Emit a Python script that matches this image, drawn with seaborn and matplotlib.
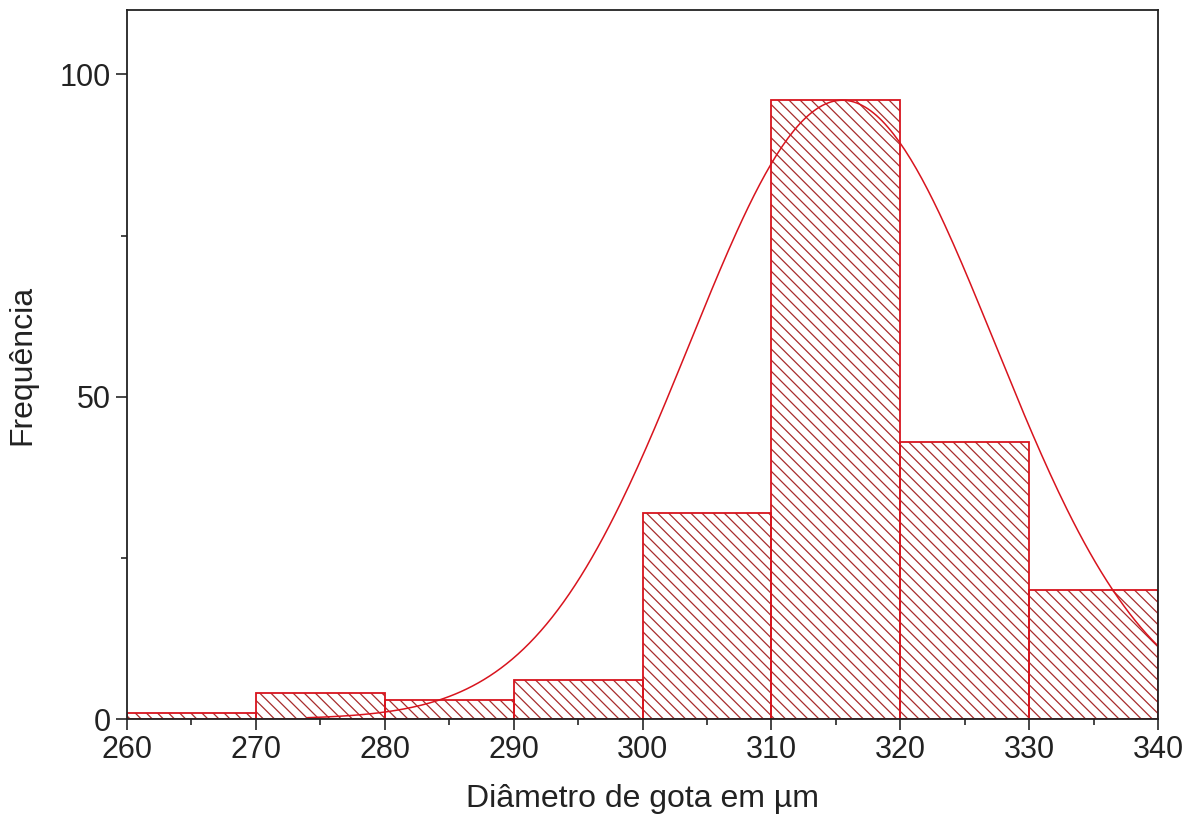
import numpy as np
import pandas as pd
import matplotlib.pyplot as plt
from matplotlib.ticker import MultipleLocator
import seaborn as sns

# histogram bins (diameter in um) and counts
bin_edges = [260, 270, 280, 290, 300, 310, 320, 330, 340]
counts = [1, 4, 3, 6, 32, 96, 43, 20]

# normal fit drawn over the histogram
fit_mean = 315.5
fit_sd = 11.85
fit_peak = 96
fit_start = 274
fit_end = 340

x_ticks = [260, 270, 280, 290, 300, 310, 320, 330, 340]
y_ticks = [0, 50, 100]

sns.set_style("white")
plt.rcParams["font.family"] = ["Liberation Sans", "DejaVu Sans"]
plt.rcParams["hatch.linewidth"] = 0.9

df = pd.DataFrame({
    "centro": [(a + b) / 2 for a, b in zip(bin_edges[:-1], bin_edges[1:])],
    "freq": counts,
})

fig = plt.figure(figsize=(11.94, 8.19), dpi=100)
ax = fig.add_axes([0.1064, 0.1221, 0.8635, 0.8657])

red = "#d8141e"
hatch_col = "#a82c2c"

# hatched fill
sns.histplot(data=df, x="centro", weights="freq", bins=bin_edges, ax=ax,
             fill=True, linewidth=0, color=hatch_col)
for p in ax.patches:
    p.set_facecolor("none")
    p.set_edgecolor(hatch_col)
    p.set_hatch("\\\\\\")
    p.set_linewidth(0)
n_hatch = len(ax.patches)

# red outline
sns.histplot(data=df, x="centro", weights="freq", bins=bin_edges, ax=ax,
             fill=False, color=red, linewidth=1.3)
for p in ax.patches[n_hatch:]:
    p.set_edgecolor(red)

# fit curve
xs = np.linspace(fit_start, fit_end, 300)
ys = fit_peak * np.exp(-0.5 * ((xs - fit_mean) / fit_sd) ** 2)
sns.lineplot(x=xs, y=ys, ax=ax, color=red, linewidth=1.1, estimator=None, sort=False)

ax.set_xlim(260, 340)
ax.set_ylim(0, 110)
ax.set_xticks(x_ticks)
ax.set_yticks(y_ticks)
ax.xaxis.set_minor_locator(MultipleLocator(5))
ax.yaxis.set_minor_locator(MultipleLocator(25))
ax.tick_params(axis="both", which="major", direction="out", length=8, width=1.2,
               labelsize=22, labelcolor="#222222", bottom=True, left=True, top=False, right=False)
ax.tick_params(axis="both", which="minor", direction="out", length=4.5, width=1.2,
               bottom=True, left=True, top=False, right=False)
for s in ax.spines.values():
    s.set_linewidth(1.3)
    s.set_color("#222222")

ax.set_xlabel("Diâmetro de gota em µm", fontsize=23, color="#222222", labelpad=14)
ax.set_ylabel("Frequência", fontsize=23, color="#222222", labelpad=16)

fig.savefig("out.png", dpi=100)
